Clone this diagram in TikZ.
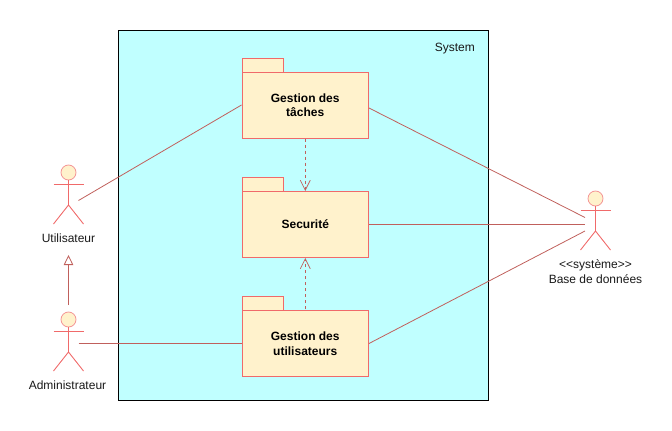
\documentclass[tikz,border=0pt]{standalone}
\usepackage{fontspec}
\setmainfont{Liberation Sans}
\usetikzlibrary{arrows.meta}
\definecolor{pkgline}{HTML}{F06A6A}
\definecolor{pkgfill}{HTML}{FFF2CC}
\definecolor{conn}{HTML}{C0605C}
\definecolor{sysfill}{HTML}{C0FFFF}
\tikzset{
  x=1pt,y=-1pt,
  sysbox/.style={draw=black,fill=sysfill,line width=1pt,minimum width=370pt,minimum height=370pt,inner sep=0pt},
  pkgbody/.style={draw=pkgline,fill=pkgfill,line width=1pt,minimum width=126.5pt,minimum height=66pt,inner sep=0pt,align=center,font=\bfseries\fontsize{12}{14.5}\selectfont},
  pkgtab/.style={draw=pkgline,fill=pkgfill,line width=1pt,minimum width=41pt,minimum height=14pt,inner sep=0pt},
  label/.style={inner sep=0pt,align=center,font=\fontsize{12}{14.5}\selectfont,text=black!90},
  actline/.style={draw=pkgline,line width=.9pt},
  head/.style={circle,draw=pkgline!70,fill=pkgfill,line width=.8pt,minimum size=15pt,inner sep=0pt},
  assoc/.style={draw=conn,line width=.8pt},
  gen/.style={assoc,-{Triangle[open,length=10pt,width=9.5pt,fill=white]}},
  dep/.style={assoc,dash pattern=on 3pt off 3pt,-{Straight Barb[length=10pt,width=10pt,line width=.7pt,color=conn]}},
}
\newcommand{\actorfig}[3]{% name, x, y of head centre
  \node[head] (#1) at (#2,#3) {};
  \draw[actline] (#1.south) -- (#2,#3+32.5) coordinate (#1hip);
  \draw[actline] (#2-15,#3+11.5) -- (#2+15,#3+11.5);
  \draw[actline] (#2-15,#3+51.5) -- (#1hip) -- (#2+15,#3+51.5);
}
\begin{document}
\begin{tikzpicture}
\useasboundingbox (0,0) rectangle (672,431);
\node[sysbox] (sys) at (303.5,215.5) {};
\node[label,anchor=east] (syslabel) at (475,48.5) {System};
% packages
\node[pkgtab] (tabA) at (262.5,65) {};
\node[pkgbody] (gt) at (305.25,105) {Gestion des\\tâches};
\node[pkgtab] (tabB) at (262.5,184) {};
\node[pkgbody] (sec) at (305.25,224.5) {Securité};
\node[pkgtab] (tabC) at (262.5,303) {};
\node[pkgbody] (gu) at (305.25,343.5) {Gestion des\\utilisateurs};
% actors
\actorfig{util}{68.5}{172.5}
\actorfig{admin}{68.5}{319.5}
\actorfig{bdd}{595.5}{198.5}
\node[label] (utillabel) at (68.5,238.5) {Utilisateur};
\node[label] (adminlabel) at (67.5,385.5) {Administrateur};
\node[label] (bddlabel) at (595.5,271.5) {<{}<système>{}>\\Base de données};
% free ends
\coordinate (utilEnd) at (78.5,200.5);
\coordinate (adminEnd) at (78.5,343.5);
\coordinate (bddA) at (585,217.5);
\coordinate (bddB) at (585,224.5);
\coordinate (bddC) at (585,231);
\coordinate (genS) at (68.5,305);
\coordinate (genE) at (68.5,255);
% connectors
\draw[assoc] (utilEnd) -- (gt.west);
\draw[assoc] (adminEnd) -- (gu.west);
\draw[assoc] (gt.east) ++(0,3) -- (bddA);
\draw[assoc] (sec.east) -- (bddB);
\draw[assoc] (gu.east) -- (bddC);
\draw[gen] (genS) -- (genE);
\draw[dep] (gt.south) -- (sec.north);
\draw[dep] (gu.north) ++(0,-1) -- (sec.south);
\end{tikzpicture}
\end{document}
